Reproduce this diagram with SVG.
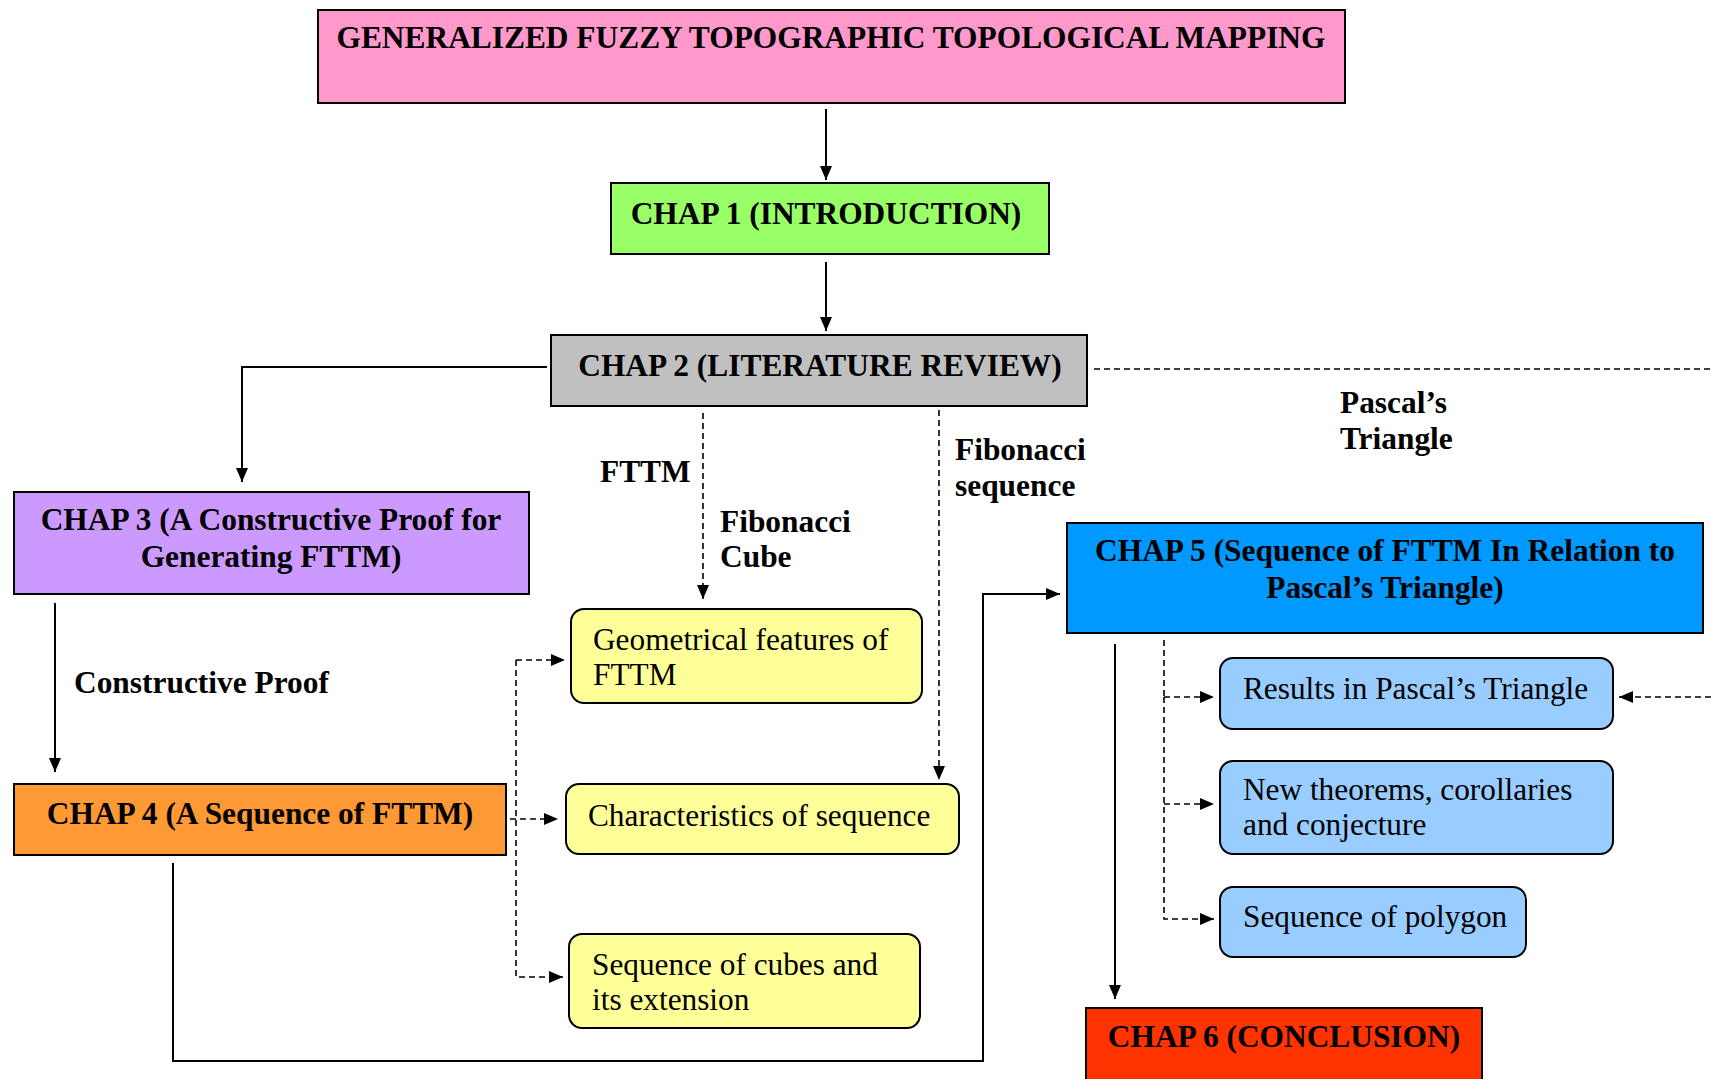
<svg xmlns="http://www.w3.org/2000/svg" width="1711" height="1079" viewBox="0 0 1711 1079">
<style>
.box{stroke:#000;stroke-width:2}
.b{font-family:"Liberation Serif","Times New Roman",serif;font-weight:bold;font-size:31.4px;fill:#000}
.r{font-family:"Liberation Serif","Times New Roman",serif;font-size:31.3px;fill:#000}
.c{text-anchor:middle}
.ln{fill:none;stroke:#000;stroke-width:2}
.ds{fill:none;stroke:#000;stroke-width:1.6;stroke-dasharray:6,4}
</style>
<defs>
<marker id="ah" viewBox="0 0 14 12" refX="14" refY="6" markerWidth="14" markerHeight="12" markerUnits="userSpaceOnUse" orient="auto">
<path d="M0,0 L14,6 L0,12 z" fill="#000"/>
</marker>
</defs>
<rect width="1711" height="1079" fill="#fff"/>

<g id="connectors">
<line class="ln" x1="826" y1="109" x2="826" y2="180" marker-end="url(#ah)"/>
<line class="ln" x1="826" y1="262" x2="826" y2="331" marker-end="url(#ah)"/>
<polyline class="ln" points="547,367 242,367 242,482" marker-end="url(#ah)"/>
<line class="ln" x1="55" y1="603" x2="55" y2="772" marker-end="url(#ah)"/>
<polyline class="ln" points="173,863 173,1061 983,1061 983,594 1060,594" marker-end="url(#ah)"/>
<line class="ln" x1="1115" y1="644" x2="1115" y2="999" marker-end="url(#ah)"/>
<line class="ds" x1="703" y1="413" x2="703" y2="599" marker-end="url(#ah)"/>
<line class="ds" x1="939" y1="410" x2="939" y2="780" marker-end="url(#ah)"/>
<line class="ds" x1="1094" y1="369" x2="1711" y2="369"/>
<line class="ds" x1="1711" y1="697" x2="1619" y2="697" marker-end="url(#ah)"/>
<line class="ds" x1="516" y1="660" x2="565" y2="660" marker-end="url(#ah)"/>
<polyline class="ds" points="516,660 516,977 563,977" marker-end="url(#ah)"/>
<line class="ds" x1="510" y1="819" x2="558" y2="819" marker-end="url(#ah)"/>
<line class="ds" x1="1164" y1="640" x2="1164" y2="697"/>
<line class="ds" x1="1164" y1="697" x2="1214" y2="697" marker-end="url(#ah)"/>
<polyline class="ds" points="1164,697 1164,919 1214,919" marker-end="url(#ah)"/>
<line class="ds" x1="1164" y1="804" x2="1214" y2="804" marker-end="url(#ah)"/>
</g>

<g id="labels">
<text class="b" x="600" y="482">FTTM</text>
<text class="b" x="720" y="532">Fibonacci</text>
<text class="b" x="720" y="567">Cube</text>
<text class="b" x="955" y="460">Fibonacci</text>
<text class="b" x="955" y="496">sequence</text>
<text class="b" x="1340" y="413">Pascal’s</text>
<text class="b" x="1340" y="449">Triangle</text>
<text class="b" x="74" y="693">Constructive Proof</text>
</g>

<g id="title">
<rect class="box" x="318" y="10" width="1027" height="93" fill="#FF99CC"/>
<text class="b c" x="831" y="48">GENERALIZED FUZZY TOPOGRAPHIC TOPOLOGICAL MAPPING</text>
</g>
<g id="chap1">
<rect class="box" x="611" y="183" width="438" height="71" fill="#99FF66"/>
<text class="b c" x="826" y="224">CHAP 1 (INTRODUCTION)</text>
</g>
<g id="chap2">
<rect class="box" x="551" y="335" width="536" height="71" fill="#C0C0C0"/>
<text class="b c" x="820" y="376">CHAP 2 (LITERATURE REVIEW)</text>
</g>
<g id="chap3">
<rect class="box" x="14" y="492" width="515" height="102" fill="#CC99FF"/>
<text class="b c" x="271" y="530">CHAP 3 (A Constructive Proof for</text>
<text class="b c" x="271" y="567">Generating FTTM)</text>
</g>
<g id="chap4">
<rect class="box" x="14" y="784" width="492" height="71" fill="#FF9933"/>
<text class="b c" x="260" y="824">CHAP 4 (A Sequence of FTTM)</text>
</g>
<g id="geom">
<rect class="box" x="571" y="609" width="351" height="94" rx="13" fill="#FFFF99"/>
<text class="r" x="593" y="650">Geometrical features of</text>
<text class="r" x="593" y="685">FTTM</text>
</g>
<g id="charact">
<rect class="box" x="566" y="784" width="393" height="70" rx="13" fill="#FFFF99"/>
<text class="r" x="588" y="826">Characteristics of sequence</text>
</g>
<g id="cubes">
<rect class="box" x="569" y="934" width="351" height="94" rx="13" fill="#FFFF99"/>
<text class="r" x="592" y="975">Sequence of cubes and</text>
<text class="r" x="592" y="1010">its extension</text>
</g>
<g id="chap5">
<rect class="box" x="1067" y="523" width="636" height="110" fill="#0099FF"/>
<text class="b c" x="1385" y="561">CHAP 5 (Sequence of FTTM In Relation to</text>
<text class="b c" x="1385" y="598">Pascal’s Triangle)</text>
</g>
<g id="results">
<rect class="box" x="1220" y="658" width="393" height="71" rx="13" fill="#99CCFF"/>
<text class="r" x="1243" y="699">Results in Pascal’s Triangle</text>
</g>
<g id="theorems">
<rect class="box" x="1220" y="761" width="393" height="93" rx="13" fill="#99CCFF"/>
<text class="r" x="1243" y="800">New theorems, corollaries</text>
<text class="r" x="1243" y="835">and conjecture</text>
</g>
<g id="polygon">
<rect class="box" x="1220" y="887" width="306" height="70" rx="13" fill="#99CCFF"/>
<text class="r" x="1243" y="927">Sequence of polygon</text>
</g>
<g id="chap6">
<rect class="box" x="1086" y="1008" width="396" height="80" fill="#FF3300"/>
<text class="b c" x="1284" y="1047">CHAP 6 (CONCLUSION)</text>
</g>
</svg>
